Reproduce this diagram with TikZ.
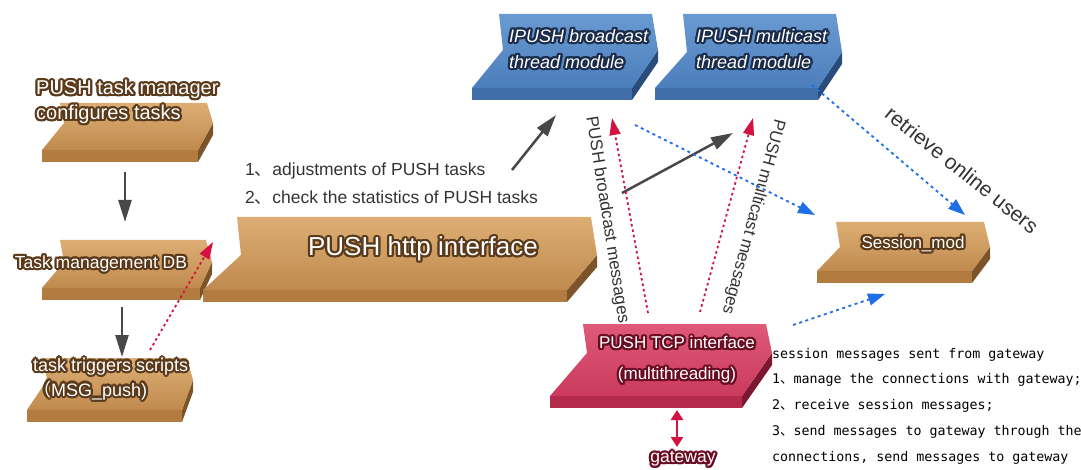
\documentclass[tikz,border=0pt]{standalone}
\usepackage{fontspec}
\setmainfont{Liberation Sans}
\newfontfamily\cjk{Noto Sans CJK SC}
\newfontfamily\monofont{DejaVu Sans Mono}
\usepackage{contour}
\contourlength{2.2pt}
\usetikzlibrary{arrows.meta}

\definecolor{brownhi}{HTML}{DDAE74}
\definecolor{brownlo}{HTML}{C08A4E}
\definecolor{brownfront}{HTML}{B27C40}
\definecolor{brownside}{HTML}{7C5429}
\definecolor{brownhalo}{HTML}{5A3A1A}
\definecolor{bluehi}{HTML}{6A9AD2}
\definecolor{bluelo}{HTML}{4B7EBC}
\definecolor{bluefront}{HTML}{3F6EA8}
\definecolor{blueside}{HTML}{2A4C7A}
\definecolor{bluehalo}{HTML}{1A2C4A}
\definecolor{redhi}{HTML}{DE5A78}
\definecolor{redlo}{HTML}{CA3A5C}
\definecolor{redfront}{HTML}{B42A4A}
\definecolor{redside}{HTML}{7D1631}
\definecolor{redhalo}{HTML}{6A0C22}
\definecolor{arrowgrey}{HTML}{484848}
\definecolor{msgred}{HTML}{D3123F}
\definecolor{msgblue}{HTML}{1E6FE6}
\definecolor{notegrey}{HTML}{333333}

% #1 colour, (#2,#3) front left corner, #4 width, #5 #6 lean of left/right side, #7 #8 heights
\newcommand{\slab}[8]{
  \fill[#1front] (#2,#3) rectangle (#2+#4,#3+12);
  \fill[#1side] (#2+#4,#3) -- (#2+#4+#6,#3-#7) -- (#2+#4+#6,#3-#7+12) -- (#2+#4,#3+12) -- cycle;
  \shade[top color=#1hi,bottom color=#1lo] (#2,#3) -- (#2+#4,#3) -- (#2+#4+#6,#3-#7)
    -- (#2+#4+#6-6,#3-#7-#8) -- (#2+#5-4,#3-#7-#8) -- (#2+#5,#3-#7) -- cycle;
}

\begin{document}
\begin{tikzpicture}[x=1pt,y=-1pt,
  lbl/.style={text=white,inner sep=0,align=left,font=\fontsize{18}{25}\selectfont},
  note/.style={text=notegrey,inner sep=0,font=\fontsize{17}{28}\selectfont},
  grey arrow/.style={arrowgrey,line width=2.5pt,-{Triangle[length=22pt,width=13pt]}},
  red msg/.style={msgred,line width=1.8pt,dash pattern=on 2.5pt off 3pt,-{Triangle[length=17pt,width=11pt]}},
  blue msg/.style={msgblue,line width=1.8pt,dash pattern=on 3pt off 3.5pt,-{Triangle[length=17pt,width=12pt]}}]
\useasboundingbox (0,0) rectangle (1081,470);

\slab{brown}{42}{150}{156}{22}{15}{27}{20}
\slab{brown}{42}{288}{158}{22}{12}{26}{22}
\slab{brown}{27}{410}{155}{20}{11}{30}{22}
\slab{brown}{203}{290}{364}{38}{30}{35}{38}
\slab{blue}{472}{88}{160}{31}{26}{38}{36}
\slab{blue}{655}{88}{163}{32}{24}{36}{38}
\slab{brown}{817}{271}{155}{23}{18}{24}{25}
\slab{red}{550}{396}{192}{37}{30}{43}{29}

\node[lbl,anchor=west,font=\fontsize{20}{25}\selectfont] (mgr) at (36,103)
  {\contour{brownhalo}{PUSH task manager}\\\contour{brownhalo}{configures tasks}};
\node[lbl,font=\fontsize{17.5}{25}\selectfont] (db) at (101,265) {\contour{brownhalo}{Task management DB}};
\node[lbl,anchor=west] (trig) at (33,380)
  {\contour{brownhalo}{task triggers scripts}\\\contour{brownhalo}{{\cjk （}MSG\_push)}};
\node[lbl,font=\fontsize{26}{30}\selectfont] (http) at (423,250) {\contour{brownhalo}{PUSH http interface}};
\node[lbl,anchor=west,font=\fontsize{18}{26}\selectfont\itshape] (bcast) at (509,50)
  {\contour{bluehalo}{IPUSH broadcast}\\\contour{bluehalo}{thread module}};
\node[lbl,anchor=west,font=\fontsize{18}{26}\selectfont\itshape] (mcast) at (696,50)
  {\contour{bluehalo}{IPUSH multicast}\\\contour{bluehalo}{thread module}};
\node[lbl,font=\fontsize{17}{25}\selectfont] (sess) at (913,245) {\contour{brownhalo}{Session\_mod}};
\node[lbl,align=center,font=\fontsize{17}{31}\selectfont] (tcp) at (677,361)
  {\contour{redhalo}{PUSH TCP interface}\\\contour{redhalo}{(multithreading)}};
\node[lbl,font=\fontsize{17.5}{25}\selectfont] (gw) at (683,460) {\contour{redhalo}{gateway}};

\node[note,anchor=west,align=left,font=\fontsize{17.5}{28}\selectfont] (tasks) at (245,184)
  {1{\cjk 、}adjustments of PUSH tasks\\2{\cjk 、}check the statistics of PUSH tasks};
\node[note,rotate=-81] (bmsg) at (607,220) {PUSH broadcast messages};
\node[note,rotate=-105] (mmsg) at (753,217) {PUSH multicast messages};
\node[note,rotate=-38.7,font=\fontsize{21}{25}\selectfont] (users) at (962,170) {retrieve online users};
\node[inner sep=0,anchor=west,align=left,text=black,font=\monofont\fontsize{13.3}{25.8}\selectfont] (duty) at (772,406)
  {session messages sent from gateway\\1{\cjk 、}manage the connections with gateway;\\2{\cjk 、}receive session messages;\\3{\cjk 、}send messages to gateway through the\\connections, send messages to gateway};

\coordinate (mgr-out) at (125,172);
\coordinate (db-in) at (125,222);
\coordinate (db-out) at (122,307);
\coordinate (trig-in) at (122,357);
\coordinate (trig-out) at (150,350);
\coordinate (db-back) at (213,242);
\coordinate (tasks-a) at (512,170);
\coordinate (bcast-in) at (556,115);
\coordinate (tasks-b) at (622,193);
\coordinate (mcast-in) at (733,133);
\coordinate (tcp-b) at (648,313);
\coordinate (bcast-back) at (612,118);
\coordinate (tcp-m) at (700,312);
\coordinate (mcast-back) at (753,118);
\coordinate (bcast-q) at (635,125);
\coordinate (sess-a) at (815,215);
\coordinate (mcast-q) at (812,85);
\coordinate (sess-b) at (965,215);
\coordinate (tcp-q) at (793,325);
\coordinate (sess-c) at (885,294);
\coordinate (tcp-gw) at (677,410);
\coordinate (gw-tcp) at (677,447);

\draw[grey arrow] (mgr-out) -- (db-in);
\draw[grey arrow] (db-out) -- (trig-in);
\draw[grey arrow] (tasks-a) -- (bcast-in);
\draw[grey arrow] (tasks-b) -- (mcast-in);
\draw[red msg] (trig-out) -- (db-back);
\draw[red msg] (tcp-b) -- (bcast-back);
\draw[red msg] (tcp-m) -- (mcast-back);
\draw[blue msg] (bcast-q) -- (sess-a);
\draw[blue msg] (mcast-q) -- (sess-b);
\draw[blue msg] (tcp-q) -- (sess-c);
\draw[msgred,line width=2.5pt,{Triangle[length=10pt,width=12pt]}-{Triangle[length=10pt,width=12pt]}] (tcp-gw) -- (gw-tcp);

\end{tikzpicture}
\end{document}
